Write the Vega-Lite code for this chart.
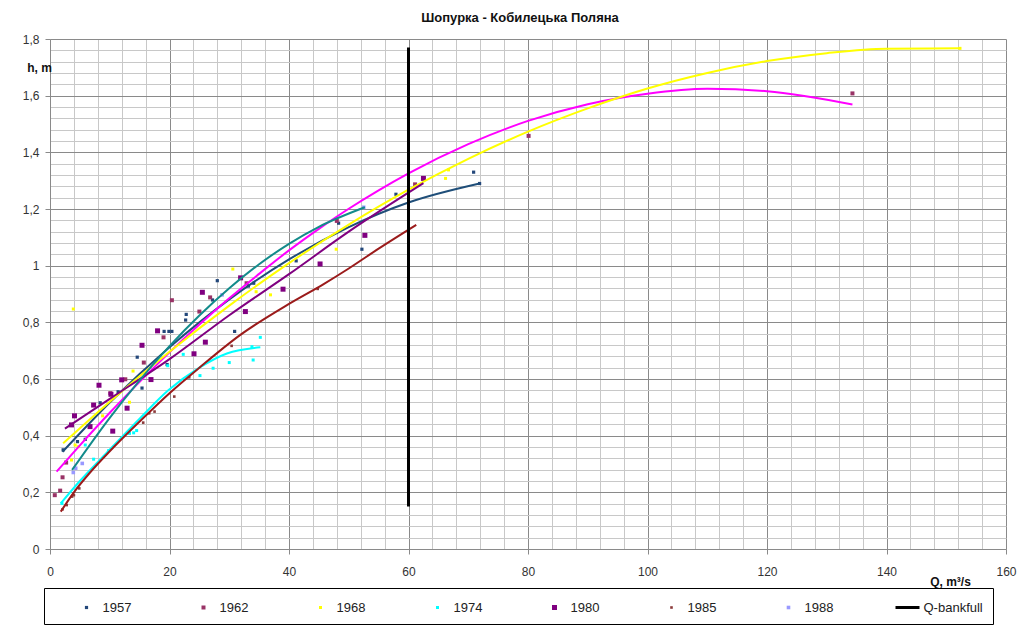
{
  "$schema": "https://vega.github.io/schema/vega-lite/v6.json",
  "width": 956,
  "height": 510,
  "autosize": {"type": "none"},
  "padding": {"left": 50, "top": 39, "right": 12, "bottom": 81},
  "background": "white",
  "title": {"text": "Шопурка - Кобилецька Поляна", "fontSize": 13, "fontWeight": "bold", "font": "Liberation Sans", "anchor": "middle", "offset": 8, "dx": -8, "color": "#111"},
  "datasets": {
    "points": [
      {"series": "1957", "Q": 2.2, "h": 0.35}, {"series": "1957", "Q": 4.6, "h": 0.379}, {"series": "1957", "Q": 5.9, "h": 0.387}, {"series": "1957", "Q": 8.4, "h": 0.516},
      {"series": "1957", "Q": 11.4, "h": 0.555}, {"series": "1957", "Q": 14.6, "h": 0.677}, {"series": "1957", "Q": 15.4, "h": 0.568}, {"series": "1957", "Q": 19.1, "h": 0.768},
      {"series": "1957", "Q": 19.9, "h": 0.768}, {"series": "1957", "Q": 20.4, "h": 0.768}, {"series": "1957", "Q": 19.6, "h": 0.651}, {"series": "1957", "Q": 22.7, "h": 0.808},
      {"series": "1957", "Q": 22.8, "h": 0.828}, {"series": "1957", "Q": 27.2, "h": 0.879}, {"series": "1957", "Q": 28.0, "h": 0.947}, {"series": "1957", "Q": 30.9, "h": 0.768},
      {"series": "1957", "Q": 33.2, "h": 0.928}, {"series": "1957", "Q": 34.1, "h": 0.938}, {"series": "1957", "Q": 41.2, "h": 1.017}, {"series": "1957", "Q": 48.3, "h": 1.15},
      {"series": "1957", "Q": 52.2, "h": 1.058}, {"series": "1957", "Q": 57.9, "h": 1.252}, {"series": "1957", "Q": 70.9, "h": 1.33}, {"series": "1957", "Q": 71.9, "h": 1.29},
      {"series": "1962", "Q": 0.8, "h": 0.19}, {"series": "1962", "Q": 1.7, "h": 0.206}, {"series": "1962", "Q": 2.1, "h": 0.253}, {"series": "1962", "Q": 2.7, "h": 0.305},
      {"series": "1962", "Q": 10.1, "h": 0.55}, {"series": "1962", "Q": 12.6, "h": 0.599}, {"series": "1962", "Q": 15.7, "h": 0.658}, {"series": "1962", "Q": 19.0, "h": 0.747},
      {"series": "1962", "Q": 20.4, "h": 0.878}, {"series": "1962", "Q": 25.0, "h": 0.838}, {"series": "1962", "Q": 26.8, "h": 0.888}, {"series": "1962", "Q": 32.9, "h": 0.938},
      {"series": "1962", "Q": 48.0, "h": 1.158}, {"series": "1962", "Q": 61.1, "h": 1.287}, {"series": "1962", "Q": 80.1, "h": 1.458}, {"series": "1962", "Q": 134.3, "h": 1.608},
      {"series": "1968", "Q": 3.6, "h": 0.314}, {"series": "1968", "Q": 4.2, "h": 0.367}, {"series": "1968", "Q": 4.7, "h": 0.361}, {"series": "1968", "Q": 3.9, "h": 0.847},
      {"series": "1968", "Q": 8.8, "h": 0.47}, {"series": "1968", "Q": 13.3, "h": 0.518}, {"series": "1968", "Q": 13.9, "h": 0.628}, {"series": "1968", "Q": 30.6, "h": 0.988},
      {"series": "1968", "Q": 34.5, "h": 0.908}, {"series": "1968", "Q": 36.9, "h": 0.897}, {"series": "1968", "Q": 47.9, "h": 1.058}, {"series": "1968", "Q": 66.2, "h": 1.308},
      {"series": "1968", "Q": 66.7, "h": 1.338}, {"series": "1968", "Q": 152.3, "h": 1.767},
      {"series": "1974", "Q": 2.0, "h": 0.161}, {"series": "1974", "Q": 5.9, "h": 0.367}, {"series": "1974", "Q": 7.3, "h": 0.317}, {"series": "1974", "Q": 9.8, "h": 0.347},
      {"series": "1974", "Q": 13.3, "h": 0.408}, {"series": "1974", "Q": 14.0, "h": 0.41}, {"series": "1974", "Q": 14.5, "h": 0.418}, {"series": "1974", "Q": 19.7, "h": 0.647},
      {"series": "1974", "Q": 22.3, "h": 0.687}, {"series": "1974", "Q": 25.1, "h": 0.612}, {"series": "1974", "Q": 27.3, "h": 0.638}, {"series": "1974", "Q": 30.0, "h": 0.658},
      {"series": "1974", "Q": 33.8, "h": 0.714}, {"series": "1974", "Q": 34.0, "h": 0.667}, {"series": "1974", "Q": 35.2, "h": 0.747},
      {"series": "1980", "Q": 3.6, "h": 0.438}, {"series": "1980", "Q": 4.1, "h": 0.47}, {"series": "1980", "Q": 6.7, "h": 0.432}, {"series": "1980", "Q": 7.3, "h": 0.508},
      {"series": "1980", "Q": 8.2, "h": 0.578}, {"series": "1980", "Q": 10.2, "h": 0.546}, {"series": "1980", "Q": 10.5, "h": 0.416}, {"series": "1980", "Q": 12.0, "h": 0.597},
      {"series": "1980", "Q": 12.9, "h": 0.497}, {"series": "1980", "Q": 15.4, "h": 0.719}, {"series": "1980", "Q": 16.9, "h": 0.598}, {"series": "1980", "Q": 18.0, "h": 0.77},
      {"series": "1980", "Q": 24.1, "h": 0.689}, {"series": "1980", "Q": 25.5, "h": 0.906}, {"series": "1980", "Q": 26.0, "h": 0.73}, {"series": "1980", "Q": 31.9, "h": 0.957},
      {"series": "1980", "Q": 32.7, "h": 0.838}, {"series": "1980", "Q": 39.0, "h": 0.917}, {"series": "1980", "Q": 45.2, "h": 1.006}, {"series": "1980", "Q": 52.7, "h": 1.107},
      {"series": "1980", "Q": 62.5, "h": 1.308},
      {"series": "1985", "Q": 2.1, "h": 0.14}, {"series": "1985", "Q": 2.8, "h": 0.155}, {"series": "1985", "Q": 3.7, "h": 0.185}, {"series": "1985", "Q": 4.0, "h": 0.19},
      {"series": "1985", "Q": 4.9, "h": 0.214}, {"series": "1985", "Q": 15.6, "h": 0.446}, {"series": "1985", "Q": 16.6, "h": 0.479}, {"series": "1985", "Q": 17.5, "h": 0.485},
      {"series": "1985", "Q": 20.8, "h": 0.538}, {"series": "1985", "Q": 23.3, "h": 0.606}, {"series": "1985", "Q": 30.4, "h": 0.717}, {"series": "1985", "Q": 44.8, "h": 0.918},
      {"series": "1988", "Q": 3.9, "h": 0.27}, {"series": "1988", "Q": 4.3, "h": 0.285}, {"series": "1988", "Q": 5.4, "h": 0.302}, {"series": "1988", "Q": 28.8, "h": 0.897},
      {"series": "1988", "Q": 52.5, "h": 1.206}
    ],
    "trends": [
      {"series": "1957", "Q": 2.1, "h": 0.343}, {"series": "1957", "Q": 10, "h": 0.517}, {"series": "1957", "Q": 20, "h": 0.712}, {"series": "1957", "Q": 30, "h": 0.881},
      {"series": "1957", "Q": 40, "h": 1.022}, {"series": "1957", "Q": 50, "h": 1.136}, {"series": "1957", "Q": 60, "h": 1.223}, {"series": "1957", "Q": 71.9, "h": 1.29},
      {"series": "1962", "Q": 1.1, "h": 0.273}, {"series": "1962", "Q": 5, "h": 0.366}, {"series": "1962", "Q": 10, "h": 0.481}, {"series": "1962", "Q": 15, "h": 0.59},
      {"series": "1962", "Q": 20, "h": 0.694}, {"series": "1962", "Q": 25, "h": 0.792}, {"series": "1962", "Q": 30, "h": 0.885}, {"series": "1962", "Q": 35, "h": 0.971},
      {"series": "1962", "Q": 40, "h": 1.054}, {"series": "1962", "Q": 45, "h": 1.13}, {"series": "1962", "Q": 50, "h": 1.201}, {"series": "1962", "Q": 55, "h": 1.266},
      {"series": "1962", "Q": 60, "h": 1.326}, {"series": "1962", "Q": 70, "h": 1.429}, {"series": "1962", "Q": 80, "h": 1.511}, {"series": "1962", "Q": 90, "h": 1.57},
      {"series": "1962", "Q": 100, "h": 1.607}, {"series": "1962", "Q": 110, "h": 1.624}, {"series": "1962", "Q": 120, "h": 1.616}, {"series": "1962", "Q": 134.3, "h": 1.569},
      {"series": "1968", "Q": 2.2, "h": 0.373}, {"series": "1968", "Q": 10, "h": 0.52}, {"series": "1968", "Q": 20, "h": 0.696}, {"series": "1968", "Q": 30, "h": 0.859},
      {"series": "1968", "Q": 40, "h": 1.009}, {"series": "1968", "Q": 50, "h": 1.145}, {"series": "1968", "Q": 60, "h": 1.268}, {"series": "1968", "Q": 70, "h": 1.377},
      {"series": "1968", "Q": 80, "h": 1.473}, {"series": "1968", "Q": 90, "h": 1.555}, {"series": "1968", "Q": 100, "h": 1.625}, {"series": "1968", "Q": 110, "h": 1.68},
      {"series": "1968", "Q": 120, "h": 1.722}, {"series": "1968", "Q": 130, "h": 1.75}, {"series": "1968", "Q": 140, "h": 1.766}, {"series": "1968", "Q": 152.3, "h": 1.767},
      {"series": "1974", "Q": 1.8, "h": 0.161}, {"series": "1974", "Q": 5, "h": 0.24}, {"series": "1974", "Q": 9.5, "h": 0.34}, {"series": "1974", "Q": 15, "h": 0.46},
      {"series": "1974", "Q": 19.8, "h": 0.56}, {"series": "1974", "Q": 25, "h": 0.64}, {"series": "1974", "Q": 29.6, "h": 0.69}, {"series": "1974", "Q": 35.2, "h": 0.712},
      {"series": "1980", "Q": 2.5, "h": 0.425}, {"series": "1980", "Q": 10, "h": 0.53}, {"series": "1980", "Q": 20, "h": 0.67}, {"series": "1980", "Q": 30, "h": 0.825},
      {"series": "1980", "Q": 40, "h": 0.97}, {"series": "1980", "Q": 50, "h": 1.12}, {"series": "1980", "Q": 62.5, "h": 1.291},
      {"series": "1985", "Q": 1.8, "h": 0.132}, {"series": "1985", "Q": 4, "h": 0.2}, {"series": "1985", "Q": 6.7, "h": 0.27}, {"series": "1985", "Q": 10, "h": 0.345},
      {"series": "1985", "Q": 15, "h": 0.45}, {"series": "1985", "Q": 20, "h": 0.55}, {"series": "1985", "Q": 25, "h": 0.64}, {"series": "1985", "Q": 31.8, "h": 0.755},
      {"series": "1985", "Q": 40, "h": 0.865}, {"series": "1985", "Q": 45.8, "h": 0.935}, {"series": "1985", "Q": 50, "h": 0.99}, {"series": "1985", "Q": 55, "h": 1.06},
      {"series": "1985", "Q": 61.3, "h": 1.144},
      {"series": "1988", "Q": 3.7, "h": 0.279}, {"series": "1988", "Q": 10, "h": 0.463}, {"series": "1988", "Q": 15, "h": 0.595}, {"series": "1988", "Q": 20, "h": 0.716},
      {"series": "1988", "Q": 25, "h": 0.824}, {"series": "1988", "Q": 30, "h": 0.92}, {"series": "1988", "Q": 35, "h": 1.005}, {"series": "1988", "Q": 40, "h": 1.077},
      {"series": "1988", "Q": 45, "h": 1.137}, {"series": "1988", "Q": 52.7, "h": 1.206}
    ],
    "bank": [
      {"series": "Q-bankfull", "Q": 60, "h": 0.15}, {"series": "Q-bankfull", "Q": 60, "h": 1.77}
    ]
  },
  "encoding": {
    "x": {"field": "Q", "type": "quantitative",
      "scale": {"domain": [0, 160], "nice": false, "zero": true},
      "axis": {
        "title": "Q, m³/s", "titleX": 900, "titleY": 32, "titleAlign": "center", "titleBaseline": "middle",
        "titleFontWeight": "bold", "titleFontSize": 12, "titleFont": "Liberation Sans", "titleColor": "#111",
        "values": [0,4,8,12,16,20,24,28,32,36,40,44,48,52,56,60,64,68,72,76,80,84,88,92,96,100,104,108,112,116,120,124,128,132,136,140,144,148,152,156,160],
        "labelExpr": "datum.value % 20 === 0 ? datum.label : ''",
        "labelOverlap": false, "labelFlush": false, "labelPadding": 12,
        "labelFont": "Liberation Sans", "labelFontSize": 12, "labelColor": "#333",
        "gridColor": {"condition": {"test": "datum.value % 20 === 0", "value": "#8a8a8a"}, "value": "#c8c8c8"},
        "tickColor": {"condition": {"test": "datum.value % 20 === 0", "value": "#8a8a8a"}, "value": "transparent"},
        "tickSize": 5, "domainColor": "#8a8a8a"
      }
    },
    "y": {"field": "h", "type": "quantitative",
      "scale": {"domain": [0, 1.8], "nice": false, "zero": true},
      "axis": {
        "title": "h, m", "titleAngle": 0, "titleX": -11, "titleY": 28, "titleAlign": "center", "titleBaseline": "middle",
        "titleFontWeight": "bold", "titleFontSize": 12, "titleFont": "Liberation Sans", "titleColor": "#111",
        "values": [0,0.04,0.08,0.12,0.16,0.2,0.24,0.28,0.32,0.36,0.4,0.44,0.48,0.52,0.56,0.6,0.64,0.68,0.72,0.76,0.8,0.84,0.88,0.92,0.96,1,1.04,1.08,1.12,1.16,1.2,1.24,1.28,1.32,1.36,1.4,1.44,1.48,1.52,1.56,1.6,1.64,1.68,1.72,1.76,1.8],
        "labelExpr": "abs(datum.value*5 - round(datum.value*5)) < 0.001 ? replace(format(datum.value, '~g'), '.', ',') : ''",
        "labelOverlap": false, "labelFlush": false, "labelPadding": 6,
        "labelFont": "Liberation Sans", "labelFontSize": 12, "labelColor": "#333",
        "gridColor": {"condition": {"test": "abs(datum.value*5 - round(datum.value*5)) < 0.001", "value": "#8a8a8a"}, "value": "#c8c8c8"},
        "tickColor": {"condition": {"test": "abs(datum.value*5 - round(datum.value*5)) < 0.001", "value": "#8a8a8a"}, "value": "transparent"},
        "tickSize": 5, "domainColor": "#8a8a8a"
      }
    }
  },
  "layer": [
    {
      "data": {"name": "points"},
      "mark": {"type": "point", "filled": true, "size": 400, "opacity": 1, "strokeWidth": 0},
      "encoding": {
        "color": {"field": "series", "type": "nominal",
          "scale": {"domain": ["1957","1962","1968","1974","1980","1985","1988","Q-bankfull"],
                    "range": ["#23477a","#993366","#ffff00","#00ffff","#800080","#8b3a3a","#9999ff","#000000"]},
          "legend": {
            "orient": "none", "legendX": -6, "legendY": 549, "direction": "horizontal", "columns": 8,
            "title": " ", "titleOrient": "left", "titlePadding": 23,
            "symbolSize": 400, "symbolStrokeWidth": 0, "labelFontSize": 13, "labelFont": "Liberation Sans", "labelColor": "#222",
            "labelOffset": 6, "columnPadding": 62, "padding": 9.5,
            "strokeColor": "#000000", "fillColor": "#ffffff"
          }
        },
        "shape": {"field": "series", "type": "nominal",
          "scale": {"domain": ["1957","1962","1968","1974","1980","1985","1988","Q-bankfull"],
                    "range": ["M-0.16,-0.16H0.16V0.16H-0.16Z","M-0.2,-0.2H0.2V0.2H-0.2Z","M-0.15,-0.15H0.15V0.15H-0.15Z","M-0.15,-0.15H0.15V0.15H-0.15Z","M-0.25,-0.25H0.25V0.25H-0.25Z","M-0.13,-0.13H0.13V0.13H-0.13Z","M-0.18,-0.18H0.18V0.18H-0.18Z","M-1.2,-0.15H1.2V0.15H-1.2Z"]}
        }
      }
    },
    {
      "data": {"name": "trends"},
      "mark": {"type": "line", "strokeWidth": 2, "interpolate": "monotone"},
      "encoding": {
        "stroke": {"field": "series", "type": "nominal", "legend": null,
          "scale": {"domain": ["1957","1962","1968","1974","1980","1985","1988"],
                    "range": ["#1f4e79","#ff00ff","#ffff00","#00ffff","#800080","#9b1b1b","#138b8b"]}
        }
      }
    },
    {
      "data": {"name": "bank"},
      "mark": {"type": "line", "strokeWidth": 3, "color": "#000000"},
      "encoding": {}
    }
  ],
  "config": {"view": {"stroke": null}, "font": "Liberation Sans"}
}
